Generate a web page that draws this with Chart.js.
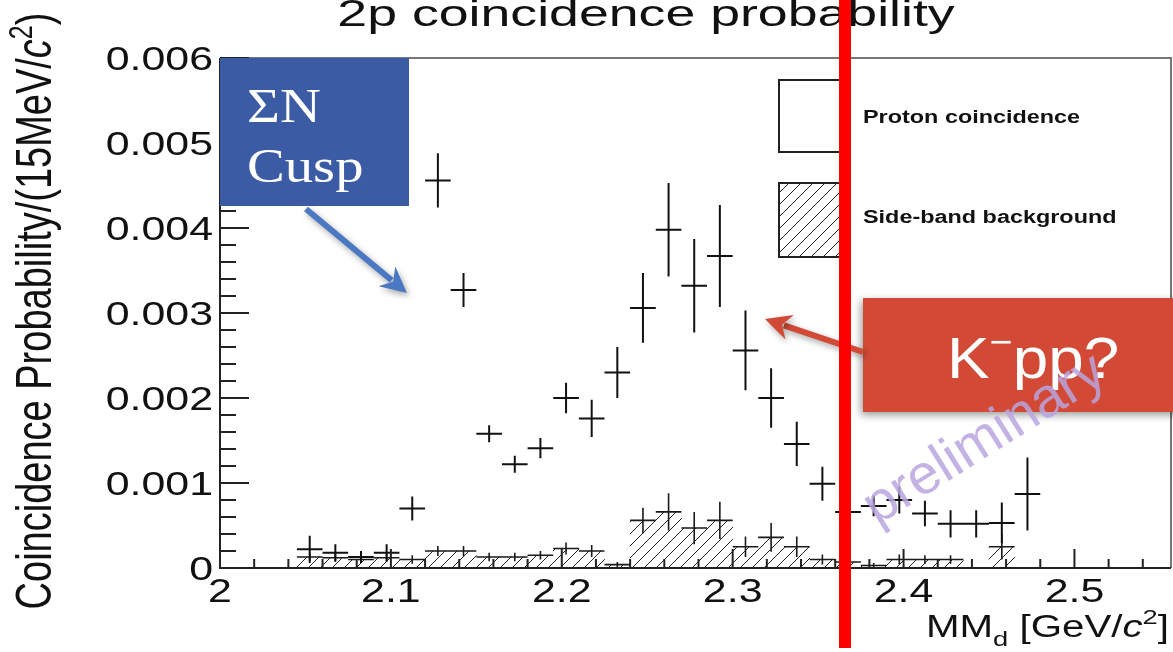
<!DOCTYPE html>
<html>
<head>
<meta charset="utf-8">
<script src="https://cdn.jsdelivr.net/npm/chart.js@4.4.1/dist/chart.umd.min.js"></script>
<style>
  html, body { margin: 0; padding: 0; background: #fff; }
  #wrap { width: 1173px; height: 652px; }
</style>
</head>
<body>
<div id="wrap"><canvas id="coinChart" width="1173" height="652"></canvas></div>
<script>
// MM_d bin centres (15 MeV bins)
const binCenters = [2.0525, 2.0675, 2.0825, 2.0975, 2.1125, 2.1275, 2.1425, 2.1575, 2.1725, 2.1875,
  2.2025, 2.2175, 2.2325, 2.2475, 2.2625, 2.2775, 2.2925, 2.3075, 2.3225, 2.3375,
  2.3525, 2.3675, 2.3825, 2.3975, 2.4125, 2.4275, 2.4425, 2.4575, 2.4725];
const binWidth = 0.015;

// proton coincidence probability and its error
const protonProb = [0.00022, 0.00018, 0.00013, 0.00018, 0.0007, 0.00456, 0.00327, 0.00158, 0.00122, 0.00141,
  0.0020, 0.00176, 0.0023, 0.00306, 0.00398, 0.00332, 0.00367, 0.00256, 0.0020, 0.00146,
  0.00099, 0.00066, 0.00073, 0.0008, 0.00064, 0.00052, 0.00052, 0.00053, 0.00087];
const protonErr = [0.00016, 0.0001, 0.00007, 0.0001, 0.00014, 0.00032, 0.0002, 0.0001, 0.0001, 0.00012,
  0.00018, 0.00022, 0.0003, 0.00041, 0.00055, 0.00055, 0.0006, 0.00047, 0.00035, 0.00026,
  0.0002, 0.00015, 0.00012, 0.00016, 0.00015, 0.00016, 0.00016, 0.00024, 0.00043];

// side-band background
const sideBandProb = [0.00013, 0.00012, 0.0001, 0.00012, 0.0001, 0.0002, 0.0002, 0.00013, 0.00013, 0.00015,
  0.00023, 0.0002, 0.00004, 0.00056, 0.00066, 0.00047, 0.00056, 0.00025, 0.00036, 0.00025,
  0.0001, 0.00007, 0.00003, 0.0001, 0.0001, 0.0001, 0, 0.00025, 0];
const sideBandErr = [0.00005, 0.00005, 0.00004, 0.00005, 0.00005, 0.00006, 0.00006, 0.00005, 0.00005, 0.00005,
  0.00007, 0.00007, 0.00003, 0.00015, 0.00022, 0.00019, 0.00022, 0.00012, 0.00017, 0.00012,
  0.00006, 0.00005, 0.00003, 0.00006, 0.00005, 0.00005, 0, 0.00015, 0];

const xTickLabels = [2, 2.1, 2.2, 2.3, 2.4, 2.5];
const yTickLabels = [0, 0.001, 0.002, 0.003, 0.004, 0.005, 0.006];

const SANS = '"Liberation Sans", Arial, sans-serif';
const SERIF = '"Liberation Serif", "Times New Roman", serif';
const SX = 1.3; // the ROOT text is drawn a bit wide

const canvas = document.getElementById('coinChart');
const ctx0 = canvas.getContext('2d');

// diagonal hatch like ROOT fill style 3004
function makeHatch() {
  const t = document.createElement('canvas');
  t.width = 12; t.height = 12;
  const g = t.getContext('2d');
  g.strokeStyle = '#222';
  g.lineWidth = 1;
  g.beginPath();
  g.moveTo(0, 12); g.lineTo(12, 0);
  g.moveTo(-6, 6); g.lineTo(6, -6);
  g.moveTo(6, 18); g.lineTo(18, 6);
  g.stroke();
  return ctx0.createPattern(t, 'repeat');
}
const hatch = makeHatch();

// draw a list of text runs (font changes, sub/superscripts) in one go
function drawRuns(ctx, runs, o) {
  ctx.save();
  ctx.translate(o.x, o.y);
  ctx.scale(o.sx || 1, 1);
  if (o.rot) ctx.rotate(o.rot);
  let total = 0;
  runs.forEach(r => { ctx.font = r.font; r.w = ctx.measureText(r.t).width; total += r.w; });
  let cx = o.align === 'center' ? -total / 2 : o.align === 'right' ? -total : 0;
  ctx.textAlign = 'left';
  ctx.textBaseline = 'alphabetic';
  ctx.fillStyle = o.color || '#111';
  runs.forEach(r => { ctx.font = r.font; ctx.fillText(r.t, cx, r.dy || 0); cx += r.w; });
  ctx.restore();
}

function arrow(ctx, x1, y1, x2, y2, color) {
  const a = Math.atan2(y2 - y1, x2 - x1);
  const head = 26, half = 13;
  const bx = x2 - head * Math.cos(a), by = y2 - head * Math.sin(a);
  ctx.save();
  ctx.shadowColor = 'rgba(0,0,0,0.35)';
  ctx.shadowBlur = 6;
  ctx.shadowOffsetX = 2;
  ctx.shadowOffsetY = 3;
  ctx.strokeStyle = color;
  ctx.fillStyle = color;
  ctx.lineWidth = 6;
  ctx.beginPath();
  ctx.moveTo(x1, y1);
  ctx.lineTo(bx + 6 * Math.cos(a), by + 6 * Math.sin(a));
  ctx.stroke();
  ctx.beginPath();
  ctx.moveTo(x2, y2);
  ctx.lineTo(bx - half * Math.sin(a), by + half * Math.cos(a));
  ctx.lineTo(bx + 8 * Math.cos(a), by + 8 * Math.sin(a));
  ctx.lineTo(bx + half * Math.sin(a), by - half * Math.cos(a));
  ctx.closePath();
  ctx.fill();
  ctx.restore();
}

const rootFrame = {
  id: 'rootFrame',
  afterDraw(chart) {
    const ctx = chart.ctx;
    const xs = chart.scales.x, ys = chart.scales.y;
    const area = chart.chartArea;

    // error crosses: side-band then proton coincidence
    function crosses(vals, errs, lw, color) {
      ctx.save();
      ctx.strokeStyle = color;
      ctx.lineWidth = lw;
      ctx.beginPath();
      binCenters.forEach((c, i) => {
        if (vals[i] <= 0) return;
        const py = ys.getPixelForValue(vals[i]);
        const px = xs.getPixelForValue(c);
        ctx.moveTo(xs.getPixelForValue(c - binWidth / 2), py);
        ctx.lineTo(xs.getPixelForValue(c + binWidth / 2), py);
        ctx.moveTo(px, ys.getPixelForValue(vals[i] + errs[i]));
        ctx.lineTo(px, ys.getPixelForValue(Math.max(0, vals[i] - errs[i])));
      });
      ctx.stroke();
      ctx.restore();
    }
    crosses(sideBandProb, sideBandErr, 1.6, '#1a1a1a');
    crosses(protonProb, protonErr, 2, '#111');

    // frame
    ctx.save();
    ctx.strokeStyle = '#777';
    ctx.lineWidth = 2;
    ctx.beginPath();
    ctx.moveTo(area.left, area.top); ctx.lineTo(area.right, area.top); ctx.lineTo(area.right, area.bottom);
    ctx.stroke();
    ctx.strokeStyle = '#222';
    ctx.beginPath();
    ctx.moveTo(area.left, area.top); ctx.lineTo(area.left, area.bottom); ctx.lineTo(area.right, area.bottom);
    ctx.stroke();

    // inward ticks
    ctx.lineWidth = 2;
    ctx.beginPath();
    for (let k = 0; k <= 30; k++) {
      const py = ys.getPixelForValue(k * 0.0002);
      const len = k % 5 === 0 ? 29 : 16;
      ctx.moveTo(area.left, py); ctx.lineTo(area.left + len, py);
    }
    for (let k = 0; k <= 27; k++) {
      const px = xs.getPixelForValue(2 + k * 0.02);
      const len = k % 5 === 0 ? 19 : 9;
      ctx.moveTo(px, area.bottom); ctx.lineTo(px, area.bottom - len);
    }
    ctx.stroke();
    ctx.restore();

    // tick labels
    yTickLabels.forEach(v => {
      const lbl = v === 0 ? '0' : v.toFixed(3);
      drawRuns(ctx, [{ t: lbl, font: '33px ' + SANS }], { x: 213, y: ys.getPixelForValue(v) + 12, sx: SX, align: 'right' });
    });
    xTickLabels.forEach(v => {
      drawRuns(ctx, [{ t: String(v), font: '33px ' + SANS }], { x: xs.getPixelForValue(v), y: 602, sx: SX, align: 'center' });
    });

    // axis titles
    drawRuns(ctx, [
      { t: 'MM', font: '31px ' + SANS },
      { t: 'd', font: '21px ' + SANS, dy: 9 },
      { t: ' [GeV/', font: '31px ' + SANS },
      { t: 'c', font: 'italic 31px ' + SANS },
      { t: '2', font: '21px ' + SANS, dy: -13 },
      { t: ']', font: '31px ' + SANS }
    ], { x: 1169, y: 637, sx: SX, align: 'right' });
    drawRuns(ctx, [
      { t: 'Coincidence Probability/(15MeV/', font: '38px ' + SANS },
      { t: 'c', font: 'italic 38px ' + SANS },
      { t: '2', font: '25px ' + SANS, dy: -15 },
      { t: ')', font: '38px ' + SANS }
    ], { x: 51, y: 311, sx: SX, rot: -Math.PI / 2, align: 'center' });

    // title
    drawRuns(ctx, [{ t: '2p coincidence probability', font: '37px ' + SANS }], { x: 646, y: 26, sx: 1.45, align: 'center' });

    // legend
    ctx.save();
    ctx.lineWidth = 2;
    ctx.strokeStyle = '#222';
    ctx.fillStyle = '#fff';
    ctx.fillRect(779, 80, 66, 72);
    ctx.strokeRect(779, 80, 66, 72);
    ctx.fillStyle = hatch;
    ctx.fillRect(779, 183, 66, 74);
    ctx.strokeRect(779, 183, 66, 74);
    ctx.restore();
    drawRuns(ctx, [{ t: chart.data.datasets[1].label, font: 'bold 18px ' + SANS }], { x: 863, y: 123, sx: SX });
    drawRuns(ctx, [{ t: chart.data.datasets[0].label, font: 'bold 18px ' + SANS }], { x: 863, y: 223, sx: SX });

    // ΣN cusp callout
    ctx.save();
    ctx.fillStyle = '#3b5ba5';
    ctx.fillRect(220, 58, 189, 148);
    ctx.restore();
    drawRuns(ctx, [{ t: 'ΣN', font: '48px ' + SERIF }], { x: 247, y: 122, sx: 1.18, color: '#fff' });
    drawRuns(ctx, [{ t: 'Cusp', font: '48px ' + SERIF }], { x: 247, y: 182, sx: 1.18, color: '#fff' });
    arrow(ctx, 306, 209, 407, 293, '#4a78c2');

    // K-pp callout
    ctx.save();
    ctx.shadowColor = 'rgba(0,0,0,0.4)';
    ctx.shadowBlur = 8;
    ctx.shadowOffsetX = -2;
    ctx.shadowOffsetY = 3;
    ctx.fillStyle = '#d24a35';
    ctx.fillRect(863, 298, 320, 114);
    ctx.restore();
    arrow(ctx, 863, 352, 765, 319, '#d24a35');
    drawRuns(ctx, [
      { t: 'K', font: '58px ' + SANS },
      { t: '\u2212', font: '36px ' + SANS, dy: -24 },
      { t: 'pp?', font: '58px ' + SANS }
    ], { x: 947, y: 378, sx: 1.1, color: '#fff' });

    // watermark
    ctx.save();
    ctx.translate(985, 440);
    ctx.rotate(-32 * Math.PI / 180);
    ctx.font = '56px ' + SANS;
    ctx.textAlign = 'center';
    ctx.textBaseline = 'middle';
    ctx.fillStyle = 'rgba(185,165,222,0.85)';
    ctx.fillText('preliminary', 0, 0);
    ctx.restore();

    // red marker line
    ctx.save();
    ctx.fillStyle = '#ff0000';
    ctx.fillRect(839, 0, 12, 648);
    ctx.restore();
  }
};

new Chart(canvas, {
  type: 'scatter',
  data: {
    datasets: [
      {
        type: 'bar',
        label: 'Side-band background',
        data: binCenters.map((x, i) => ({ x: x, y: sideBandProb[i] })),
        backgroundColor: hatch,
        borderWidth: 0,
        barPercentage: 1,
        categoryPercentage: 1
      },
      {
        type: 'scatter',
        label: 'Proton coincidence',
        data: binCenters.map((x, i) => ({ x: x, y: protonProb[i] })),
        pointRadius: 0,
        showLine: false
      }
    ]
  },
  options: {
    responsive: false,
    animation: false,
    devicePixelRatio: 1,
    layout: { padding: { left: 220, top: 58, right: 2, bottom: 84 } },
    scales: {
      x: { type: 'linear', min: 2.0, max: 2.5565, offset: false, display: false },
      y: { type: 'linear', min: 0, max: 0.006, display: false }
    },
    plugins: {
      legend: { display: false },
      tooltip: { enabled: false }
    }
  },
  plugins: [rootFrame]
});
</script>
</body>
</html>
